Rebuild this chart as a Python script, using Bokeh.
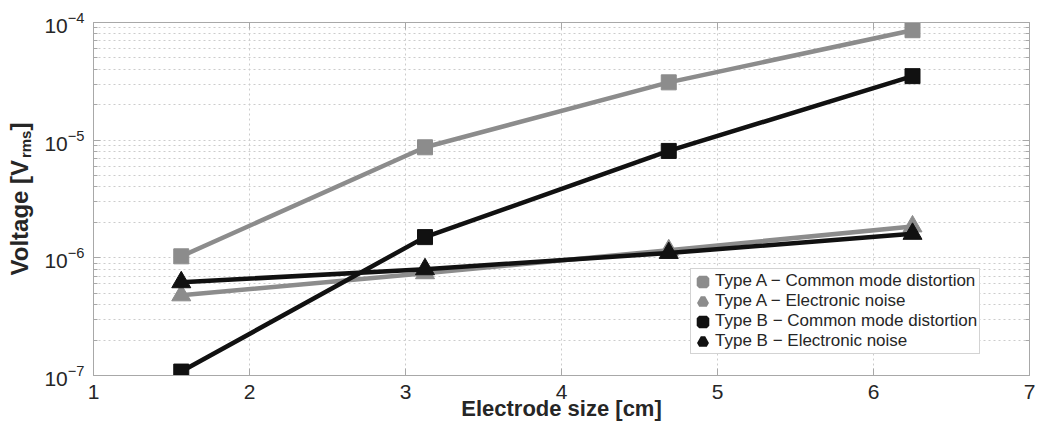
import math
from bokeh.plotting import figure
from bokeh.layouts import row
from bokeh.models import (FixedTicker, LinearAxis, LogAxis, Legend, LegendItem,
                          CustomJSTickFormatter, LogTickFormatter, Range1d)
from bokeh.core.properties import value
from bokeh.embed import file_html
from bokeh.resources import INLINE

# ---------------- data ----------------
electrode_size = [1.5625, 3.125, 4.6875, 6.25]
type_a_cmd = [1.03e-6, 8.7e-6, 3.1e-5, 8.6e-5]
type_a_noise = [4.8e-7, 7.4e-7, 1.16e-6, 1.85e-6]
type_b_cmd = [1.08e-7, 1.5e-6, 8.1e-6, 3.5e-5]
type_b_noise = [6.2e-7, 8.0e-7, 1.1e-6, 1.6e-6]
series_labels = ["Type A \u2212 Common mode distortion",
                 "Type A \u2212 Electronic noise",
                 "Type B \u2212 Common mode distortion",
                 "Type B \u2212 Electronic noise"]
x_ticks = [1, 2, 3, 4, 5, 6, 7]
y_decades = [-7, -6, -5, -4]
x_title = "Electrode size [cm]"
y_title_parts = ["Voltage [V", "rms", "]"]

# ---------------- styling ----------------
GRAY = "#8c8c8c"
BLACK = "#111111"
AXIS = "#a8a8a8"
GRID = "#cccccc"
TXT = "#262626"
FONT = "Liberation Sans"
FH = 353          # frame height
TOP, BOT = 22, 51
LW = 34           # width of the side strip holding the y title

y_major = [10.0 ** e for e in y_decades]
y_minor = [k * 10.0 ** e for e in y_decades[:-1] for k in range(2, 10)]

p = figure(frame_width=936, frame_height=FH, y_axis_type="log",
           x_range=Range1d(1, 7), y_range=Range1d(1e-7, 1e-4),
           output_backend="svg", toolbar_location=None,
           min_border_left=93 - LW, min_border_right=12, min_border_top=TOP, min_border_bottom=BOT)
p.background_fill_color = "white"
p.border_fill_color = "white"
p.outline_line_color = AXIS

p.xaxis.ticker = FixedTicker(ticks=x_ticks)
p.yaxis.ticker = FixedTicker(ticks=y_major, minor_ticks=y_minor)
p.yaxis.formatter = LogTickFormatter()

for ax in (p.xaxis[0], p.yaxis[0]):
    ax.axis_line_color = AXIS
    ax.major_tick_line_color = AXIS
    ax.minor_tick_line_color = AXIS
    ax.major_tick_in = 7
    ax.major_tick_out = 0
    ax.minor_tick_in = 4
    ax.minor_tick_out = 0
    ax.major_label_text_font = FONT
    ax.major_label_text_font_size = "21px"
    ax.major_label_text_color = TXT
    ax.axis_label_text_font = FONT
    ax.axis_label_text_font_style = "bold"
    ax.axis_label_text_color = TXT

p.xaxis.major_label_standoff = 9
p.xaxis.axis_label = x_title
p.xaxis.axis_label_text_font_size = "22px"
p.xaxis.axis_label_standoff = -6
p.yaxis.major_label_standoff = 9

# box ticks on top / right
empty = CustomJSTickFormatter(code="return ''")
top = LinearAxis(ticker=FixedTicker(ticks=x_ticks), formatter=empty,
                 major_tick_in=7, major_tick_out=0, minor_tick_in=0, minor_tick_out=0,
                 axis_line_color=AXIS, major_tick_line_color=AXIS, major_label_standoff=0)
right = LogAxis(ticker=FixedTicker(ticks=y_major, minor_ticks=y_minor), formatter=empty,
                major_tick_in=7, major_tick_out=0, minor_tick_in=4, minor_tick_out=0,
                axis_line_color=AXIS, major_tick_line_color=AXIS, minor_tick_line_color=AXIS,
                major_label_standoff=0)
p.add_layout(top, "above")
p.add_layout(right, "right")

# grid
p.xgrid.ticker = FixedTicker(ticks=x_ticks)
p.xgrid.grid_line_color = GRID
p.xgrid.grid_line_dash = "2 3"
p.ygrid.grid_line_color = GRID
p.ygrid.grid_line_dash = "2 3"
p.ygrid.minor_grid_line_color = GRID
p.ygrid.minor_grid_line_dash = "2 3"

# series
series = [
    (type_a_cmd, GRAY, "square", 15),
    (type_a_noise, GRAY, "triangle", 19),
    (type_b_cmd, BLACK, "square", 15),
    (type_b_noise, BLACK, "triangle", 19),
]
NAN = float("nan")
items = []
for (vals, col, mk, sz), lab in zip(series, series_labels):
    p.line(electrode_size, vals, line_color=col, line_width=4.5)
    p.scatter(electrode_size, vals, marker=mk, size=sz, fill_color=col, line_color=col)
    # legend-only renderer (no visible point) with a thick outline -> bigger legend marker
    dummy = p.scatter(x=[NAN], y=[NAN], marker=mk, size=sz,
                      fill_color=col, line_color=col, line_width=5)
    items.append(LegendItem(label=lab, renderers=[dummy]))

legend = Legend(items=items, location=(597, 21), margin=0, padding=2, spacing=0,
                glyph_width=19, glyph_height=19, label_height=19, label_standoff=3,
                label_text_font=FONT, label_text_font_size="17px", label_text_color=TXT,
                label_text_line_height=1.0,
                border_line_color=AXIS, background_fill_color="white", background_fill_alpha=1)
p.add_layout(legend, "center")

# y-axis title with subscript, drawn in a narrow side figure whose frame lines up with the plot
t = figure(frame_width=LW, frame_height=FH, x_range=Range1d(0, LW), y_range=Range1d(0, FH),
           x_axis_location=None, y_axis_location=None, output_backend="svg",
           toolbar_location=None, min_border_left=0, min_border_right=0,
           min_border_top=TOP, min_border_bottom=BOT)
t.outline_line_color = None
t.grid.visible = False
t.background_fill_color = "white"
t.border_fill_color = "white"
kw = dict(angle=math.pi / 2, text_align="left", text_baseline="alphabetic",
          text_font=value(FONT), text_font_style="bold", text_color=TXT)
t.text(x=[19], y=[100], text=[y_title_parts[0]], text_font_size="24px", **kw)
t.text(x=[25], y=[217.4], text=[y_title_parts[1]], text_font_size="15px", **kw)
t.text(x=[19], y=[245], text=[y_title_parts[2]], text_font_size="24px", **kw)

layout = row(t, p, spacing=0)
open("out.html", "w").write(file_html(layout, INLINE))
